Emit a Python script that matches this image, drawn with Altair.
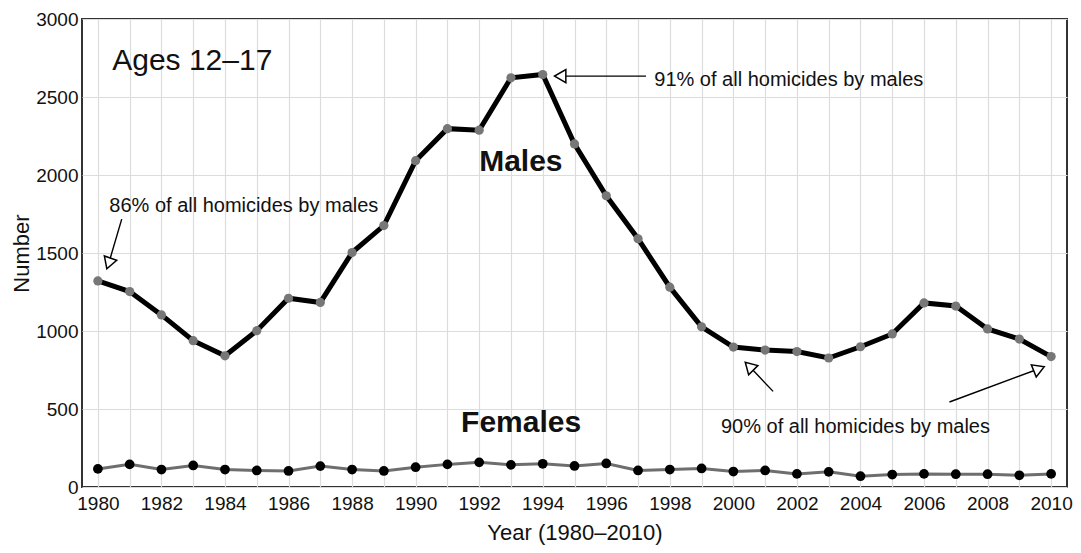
import altair as alt
import pandas as pd

years = list(range(1980, 2011))
males = [1321, 1253, 1103, 938, 841, 1002, 1210, 1183, 1503, 1676, 2092, 2297, 2287, 2623, 2644,
         2199, 1867, 1591, 1281, 1027, 897, 878, 868, 827, 899, 981, 1180, 1160, 1013, 948, 836]
females = [116, 145, 112, 138, 112, 106, 103, 134, 112, 103, 127, 145, 158, 142, 149,
           135, 151, 106, 112, 119, 99, 106, 84, 97, 69, 80, 84, 82, 82, 75, 84]

y_ticks = [0, 500, 1000, 1500, 2000, 2500, 3000]

note_text = ["86% of all homicides by males", "91% of all homicides by males", "90% of all homicides by males"]
note_x = [1980.36, 1997.51, 1999.61]
note_y = [1764, 2570, 349]

series_text = ["Males", "Females"]
series_x = [1992.0, 1991.43]
series_y = [2024, 353]

panel_text = ["Ages 12–17"]
panel_x = [1980.45]
panel_y = [2673]

arrow_x = [1980.75, 1997.25, 2001.25, 2006.8]
arrow_y = [1717, 2634, 613, 545]
head_x = [1980.34, 1994.55, 2000.5, 2009.62]
head_y = [1433, 2634, 774, 758]
head_angle = [199, 270, 315, 68]

FONT = "Liberation Sans"

dm = pd.DataFrame({"year": years, "value": males})
dfm = pd.DataFrame({"year": years, "value": females})
dnotes = pd.DataFrame({"year": note_x, "value": note_y, "label": note_text})
dseries = pd.DataFrame({"year": series_x, "value": series_y, "label": series_text})
dpanel = pd.DataFrame({"year": panel_x, "value": panel_y, "label": panel_text})
darrow = pd.DataFrame({"year": arrow_x, "value": arrow_y, "year2": head_x, "value2": head_y})
dhead = pd.DataFrame({"year": head_x, "value": head_y, "angle": head_angle})

xscale = alt.Scale(domain=[1979.5, 2010.5], nice=False, zero=False)
yscale = alt.Scale(domain=[0, 3000], nice=False)

xaxis = alt.Axis(values=years, labelExpr="datum.value % 2 === 0 ? datum.label : ''",
                 format="d", labelOverlap=False, labelFlush=False, title="Year (1980–2010)",
                 labelPadding=7, titleBaseline="alphabetic", titleY=52)
yaxis = alt.Axis(values=y_ticks, format="d", title="Number", labelPadding=4,
                 titleX=-54, titleBaseline="alphabetic")

X = alt.X("year:Q", scale=xscale, axis=xaxis)
Y = alt.Y("value:Q", scale=yscale, axis=yaxis)

female_line = alt.Chart(dfm).mark_line(color="#6e6e6e", strokeWidth=3).encode(X, Y)
female_pts = alt.Chart(dfm).mark_circle(color="black", size=95, opacity=1).encode(X, Y)
male_line = alt.Chart(dm).mark_line(color="black", strokeWidth=5).encode(X, Y)
male_pts = alt.Chart(dm).mark_circle(color="#777777", size=85, opacity=1).encode(X, Y)

arrows = alt.Chart(darrow).mark_rule(color="black", strokeWidth=1.4).encode(
    X, Y, x2="year2:Q", y2="value2:Q")
heads = alt.Chart(dhead).mark_point(shape="triangle-up", filled=True, fill="white",
                                     stroke="black", strokeWidth=1.5, size=170, opacity=1).encode(
    X, Y, angle=alt.Angle("angle:Q", scale=None))

notes = alt.Chart(dnotes).mark_text(align="left", baseline="alphabetic", font=FONT,
                                     fontSize=20, color="#111111").encode(X, Y, text="label:N")
series = alt.Chart(dseries).mark_text(align="left", baseline="alphabetic", font=FONT,
                                       fontSize=30, fontWeight="bold", color="#111111").encode(X, Y, text="label:N")
panel = alt.Chart(dpanel).mark_text(align="left", baseline="alphabetic", font=FONT,
                                     fontSize=30, color="#111111").encode(X, Y, text="label:N")

chart = alt.layer(female_line, female_pts, male_line, male_pts, arrows, heads, notes, series, panel).properties(
    width=985, height=468,
    autosize=alt.AutoSizeParams(type="none"),
    padding={"left": 74, "top": 11, "right": 6, "bottom": 58}
).configure_view(
    stroke="#333333", strokeWidth=2
).configure_axis(
    grid=True, gridColor="#dcdcdc", gridWidth=1.2, domain=False, ticks=False,
    labelFont=FONT, labelFontSize=19, labelColor="#111111",
    titleFont=FONT, titleFontSize=22, titleFontWeight="normal", titleColor="#111111"
)

chart.save("out.html", embed_options={"renderer": "svg", "actions": False})
